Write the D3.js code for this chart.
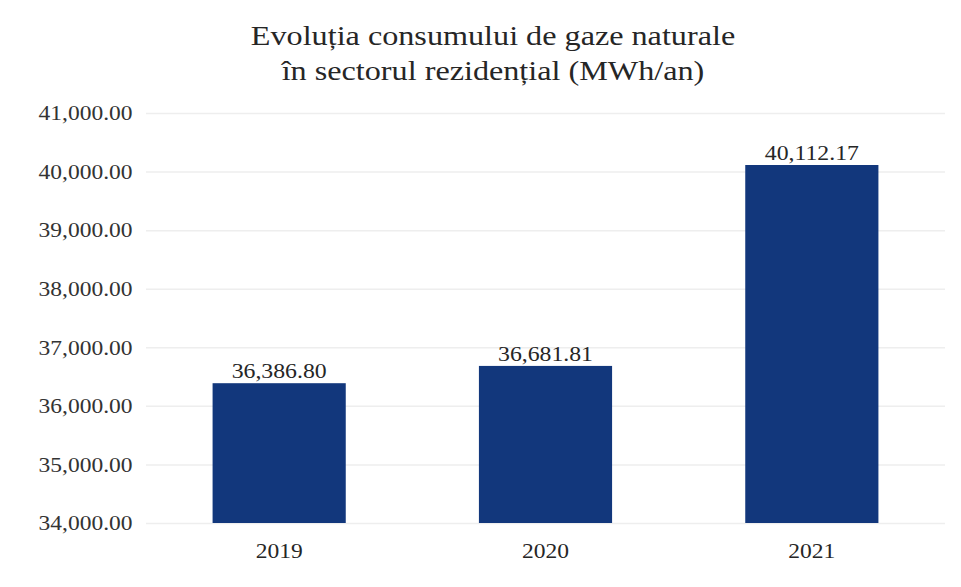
<!DOCTYPE html>
<html><head><meta charset="utf-8">
<script src="https://cdn.jsdelivr.net/npm/d3@7"></script>
<style>body{margin:0;background:#fff}svg{display:block}</style>
</head><body>
<svg id="c" width="961" height="587"></svg>
<script>
const categories = ["2019", "2020", "2021"];
const values = [36386.80, 36681.81, 40112.17];
const yTicks = [34000, 35000, 36000, 37000, 38000, 39000, 40000, 41000];
const titleLines = ["Evoluția consumului de gaze naturale", "în sectorul rezidențial (MWh/an)"];

(function () {
const svg = d3.select("#c");
const font = "'Liberation Serif', 'Times New Roman', serif";
const mLeft = 146, mRight = 945, mTop = 113, mBottom = 523;

const x = d3.scaleBand().domain(categories).range([mLeft, mRight]).paddingInner(0.5).paddingOuter(0.25);
const y = d3.scaleLinear().domain([34000, 41000]).range([mBottom, mTop]);
const fmt = d3.format(",.2f");

svg.append("g").selectAll("text").data(titleLines).join("text")
  .attr("transform", (d, i) => `translate(493,${45 + i * 35}) scale(1.15,1)`)
  .attr("text-anchor", "middle").attr("font-family", font).attr("font-size", 28)
  .attr("fill", "#262626").text(d => d);

const yAxis = d3.axisLeft(y).tickValues(yTicks).tickFormat(fmt).tickSize(-(mRight - mLeft)).tickPadding(12);
const gy = svg.append("g").attr("transform", `translate(${mLeft},0)`).call(yAxis);
gy.select(".domain").remove();
gy.selectAll(".tick line").attr("stroke", "#eeeeee").attr("stroke-width", 1.5);
gy.selectAll(".tick text").attr("font-family", font).attr("font-size", 21).attr("fill", "#333")
  .attr("transform", "scale(1.12,1)");

svg.append("g").selectAll("rect").data(values).join("rect")
  .attr("x", (d, i) => x(categories[i])).attr("width", x.bandwidth())
  .attr("y", d => y(d)).attr("height", d => y(34000) - y(d))
  .attr("fill", "#12377c");

svg.append("g").selectAll("text").data(values).join("text")
  .attr("transform", (d, i) => `translate(${x(categories[i]) + x.bandwidth() / 2},${y(d) - 5}) scale(1.08,1)`)
  .attr("text-anchor", "middle").attr("font-family", font).attr("font-size", 22)
  .attr("fill", "#262626").text(d => fmt(d));

const xAxis = d3.axisBottom(x).tickSize(0).tickPadding(19);
const gx = svg.append("g").attr("transform", `translate(0,${mBottom})`).call(xAxis);
gx.select(".domain").remove();
gx.selectAll(".tick text").attr("font-family", font).attr("font-size", 22).attr("fill", "#262626")
  .attr("transform", "scale(1.07,1)");
})();
</script>
</body></html>
